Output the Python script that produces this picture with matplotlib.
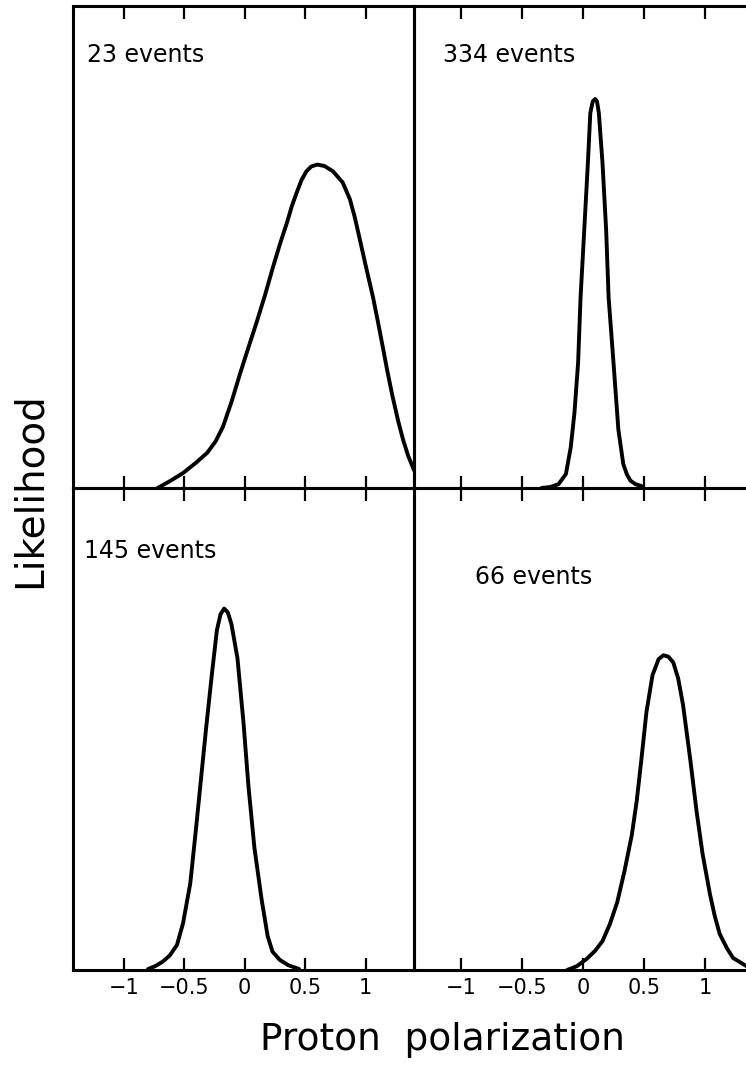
import matplotlib.pyplot as plt

plt.rcParams['font.family'] = ['DejaVu Sans']

# likelihood curves (x = polarization, y = fraction of panel height)
x23 = [-0.72, -0.62, -0.51, -0.41, -0.31, -0.24, -0.18, -0.11, -0.04, 0.03, 0.10, 0.17,
       0.23, 0.29, 0.35, 0.39, 0.43, 0.47, 0.51, 0.55, 0.60, 0.66, 0.73, 0.81,
       0.87, 0.91, 0.95, 1.00, 1.06, 1.10, 1.14, 1.18, 1.22, 1.27, 1.31, 1.35, 1.40]
y23 = [0.0, 0.014, 0.031, 0.051, 0.073, 0.097, 0.127, 0.178, 0.236, 0.291, 0.345, 0.402,
       0.455, 0.505, 0.551, 0.585, 0.613, 0.639, 0.657, 0.667, 0.671, 0.668, 0.657, 0.634,
       0.599, 0.562, 0.518, 0.462, 0.397, 0.347, 0.295, 0.242, 0.193, 0.138, 0.100, 0.068, 0.037]

x334 = [-0.34, -0.27, -0.20, -0.14, -0.10, -0.07, -0.04, -0.02, 0.01, 0.04, 0.06, 0.08,
        0.10, 0.115, 0.13, 0.16, 0.19, 0.21, 0.25, 0.29, 0.33, 0.36, 0.39, 0.43, 0.48]
y334 = [0.0, 0.002, 0.008, 0.029, 0.085, 0.156, 0.260, 0.395, 0.534, 0.674, 0.778, 0.802,
        0.807, 0.802, 0.778, 0.674, 0.534, 0.395, 0.260, 0.121, 0.050, 0.028, 0.015, 0.008, 0.004]

x145 = [-0.80, -0.74, -0.68, -0.62, -0.56, -0.51, -0.45, -0.40, -0.36, -0.32, -0.27, -0.23,
        -0.20, -0.17, -0.14, -0.11, -0.06, -0.01, 0.03, 0.08, 0.14, 0.19, 0.23, 0.29, 0.36, 0.45]
y145 = [0.002, 0.008, 0.017, 0.030, 0.052, 0.097, 0.180, 0.300, 0.400, 0.500, 0.617, 0.705,
        0.738, 0.750, 0.742, 0.718, 0.647, 0.513, 0.384, 0.254, 0.146, 0.070, 0.038, 0.021, 0.010, 0.002]

x66 = [-0.13, -0.05, 0.03, 0.10, 0.16, 0.22, 0.28, 0.34, 0.40, 0.44, 0.48, 0.52, 0.57, 0.62,
       0.66, 0.70, 0.74, 0.78, 0.82, 0.88, 0.93, 0.98, 1.04, 1.08, 1.12, 1.18, 1.23, 1.34]
y66 = [0.0, 0.008, 0.023, 0.040, 0.060, 0.095, 0.140, 0.205, 0.280, 0.350, 0.440, 0.535, 0.612, 0.645,
       0.653, 0.650, 0.638, 0.605, 0.550, 0.435, 0.331, 0.241, 0.158, 0.112, 0.075, 0.045, 0.025, 0.008]

tick_vals = [-1, -0.5, 0, 0.5, 1]
tick_labels = ['\u22121', '\u22120.5', '0', '0.5', '1']

W, H = 746, 1073
fig = plt.figure(figsize=(W / 100, H / 100), dpi=100)

def px_axes(x0, x1, y0, y1):
    return fig.add_axes([x0 / W, 1 - y1 / H, (x1 - x0) / W, (y1 - y0) / H])

panels = [
    (px_axes(73, 414, 6, 488), x23, y23, '23 events', (0.041, 0.898), (-1.42, 1.40), False),
    (px_axes(414, 746, 6, 488), x334, y334, '334 events', (0.087, 0.898), (-1.385, 1.336), False),
    (px_axes(73, 414, 488, 970), x145, y145, '145 events', (0.032, 0.869), (-1.42, 1.40), True),
    (px_axes(414, 746, 488, 970), x66, y66, '66 events', (0.184, 0.815), (-1.385, 1.336), True),
]

for i, (ax, xs, ys, label, pos, xlim, bottom) in enumerate(panels):
    ax.plot(xs, ys, color='black', lw=2.8, solid_capstyle='round', solid_joinstyle='round')
    ax.set_xlim(*xlim)
    ax.set_ylim(0, 1)
    ax.set_yticks([])
    ax.set_xticks(tick_vals)
    ax.tick_params(axis='x', direction='in', top=True, bottom=True,
                   length=9, width=1.6, color='black', pad=6)
    if bottom:
        ax.set_xticklabels(tick_labels, fontsize=15)
    else:
        ax.set_xticklabels([])
    for side, sp in ax.spines.items():
        sp.set_linewidth(2.2)
    if i % 2 == 1:
        ax.spines['right'].set_visible(False)
    ax.text(pos[0], pos[1], label, transform=ax.transAxes, fontsize=17,
            ha='left', va='center')
    ax.patch.set_alpha(0)

fig.text(30 / W, 1 - 490 / H, 'Likelihood', rotation=90, fontsize=28,
         ha='center', va='center')
fig.text(442 / W, 1 - 1040 / H, 'Proton  polarization', fontsize=27,
         ha='center', va='center')

fig.savefig('out.png', dpi=100)
